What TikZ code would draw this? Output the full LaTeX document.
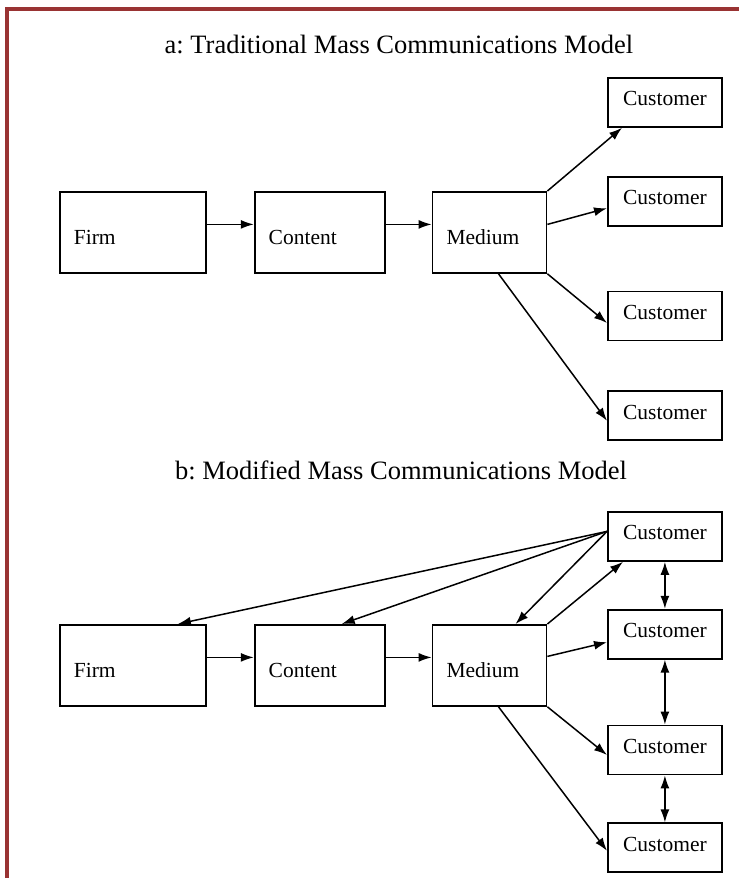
\documentclass[tikz,border=0pt]{standalone}
\usepackage{fontspec}
\setmainfont{Liberation Serif}
\usetikzlibrary{arrows.meta,positioning}
\definecolor{framered}{RGB}{153,51,51}
\frenchspacing

\begin{document}
\begin{tikzpicture}[
    x=1pt, y=1pt,
    box/.style={draw, line width=1.8pt, rectangle, minimum height=81pt, inner xsep=14pt, align=left, text height=26pt, text depth=2pt, font=\fontsize{21.5}{24}\selectfont},
    custbox/.style={draw, line width=1.8pt, rectangle, minimum width=114pt, minimum height=49pt, inner sep=0pt, text height=14pt, text depth=7pt, font=\fontsize{21.5}{24}\selectfont},
    heading/.style={anchor=base, font=\fontsize{26.5}{30}\selectfont},
    arrow/.style={-{Latex[length=13pt,width=9pt]}, line width=1.5pt},
    twoway/.style={{Latex[length=13pt,width=9pt]}-{Latex[length=13pt,width=9pt]}, line width=1.5pt}
]

\useasboundingbox (0,0) rectangle (739,-878);

% Frame
\fill[framered] (5,-7) rectangle (739,-11);
\fill[framered] (5,-7) rectangle (9,-878);

% a: Traditional model
\node[heading] (titleA) at (399,-53) {a: Traditional Mass Communications Model};
\node[box, text width=118pt, anchor=north west] (firmA) at (59,-191) {Firm};
\node[box, text width=102pt, right=47pt of firmA] (contentA) {Content};
\node[box, text width=86pt, right=46pt of contentA] (mediumA) {Medium};

\node[custbox, anchor=north west] (custA1) at (607,-77) {Customer};
\node[custbox, below=48pt of custA1] (custA2) {Customer};
\node[custbox, below=64pt of custA2] (custA3) {Customer};
\node[custbox, below=49pt of custA3] (custA4) {Customer};

\draw[arrow] ([yshift=8pt]firmA.east) -- ([yshift=8pt]contentA.west);
\draw[arrow] ([yshift=8pt]contentA.east) -- ([yshift=8pt]mediumA.west);
\draw[arrow] (mediumA.north east) -- ([xshift=15pt]custA1.south west);
\draw[arrow] ([yshift=8pt]mediumA.east) -- ([yshift=-7pt]custA2.west);
\draw[arrow] (mediumA.south east) -- ([yshift=-7pt]custA3.west);
\draw[arrow] ([xshift=9pt]mediumA.south) -- ([yshift=-5pt]custA4.west);

% b: Modified model
\node[heading] (titleB) at (401,-479) {b: Modified Mass Communications Model};
\node[box, text width=118pt, anchor=north west] (firmB) at (59,-624) {Firm};
\node[box, text width=102pt, right=47pt of firmB] (contentB) {Content};
\node[box, text width=86pt, right=46pt of contentB] (mediumB) {Medium};

\node[custbox, anchor=north west] (custB1) at (607,-511) {Customer};
\node[custbox, below=47pt of custB1] (custB2) {Customer};
\node[custbox, below=65pt of custB2] (custB3) {Customer};
\node[custbox, below=47pt of custB3] (custB4) {Customer};

\draw[arrow] ([yshift=8pt]firmB.east) -- ([yshift=8pt]contentB.west);
\draw[arrow] ([yshift=8pt]contentB.east) -- ([yshift=8pt]mediumB.west);
\draw[arrow] ([yshift=5pt]custB1.west) -- ([xshift=45pt]firmB.north);
\draw[arrow] ([yshift=5pt]custB1.west) -- ([xshift=22pt]contentB.north);
\draw[arrow] ([yshift=5pt]custB1.west) -- ([xshift=26pt]mediumB.north);
\draw[arrow] (mediumB.north east) -- ([xshift=16pt]custB1.south west);
\draw[arrow] ([yshift=9pt]mediumB.east) -- ([yshift=-8pt]custB2.west);
\draw[arrow] (mediumB.south east) -- ([yshift=-5pt]custB3.west);
\draw[arrow] ([xshift=9pt]mediumB.south) -- ([yshift=-3pt]custB4.west);

% Customer to customer
\foreach \i/\j in {1/2,2/3,3/4}
    \draw[twoway] (custB\i.south) -- (custB\j.north);

\end{tikzpicture}
\end{document}
